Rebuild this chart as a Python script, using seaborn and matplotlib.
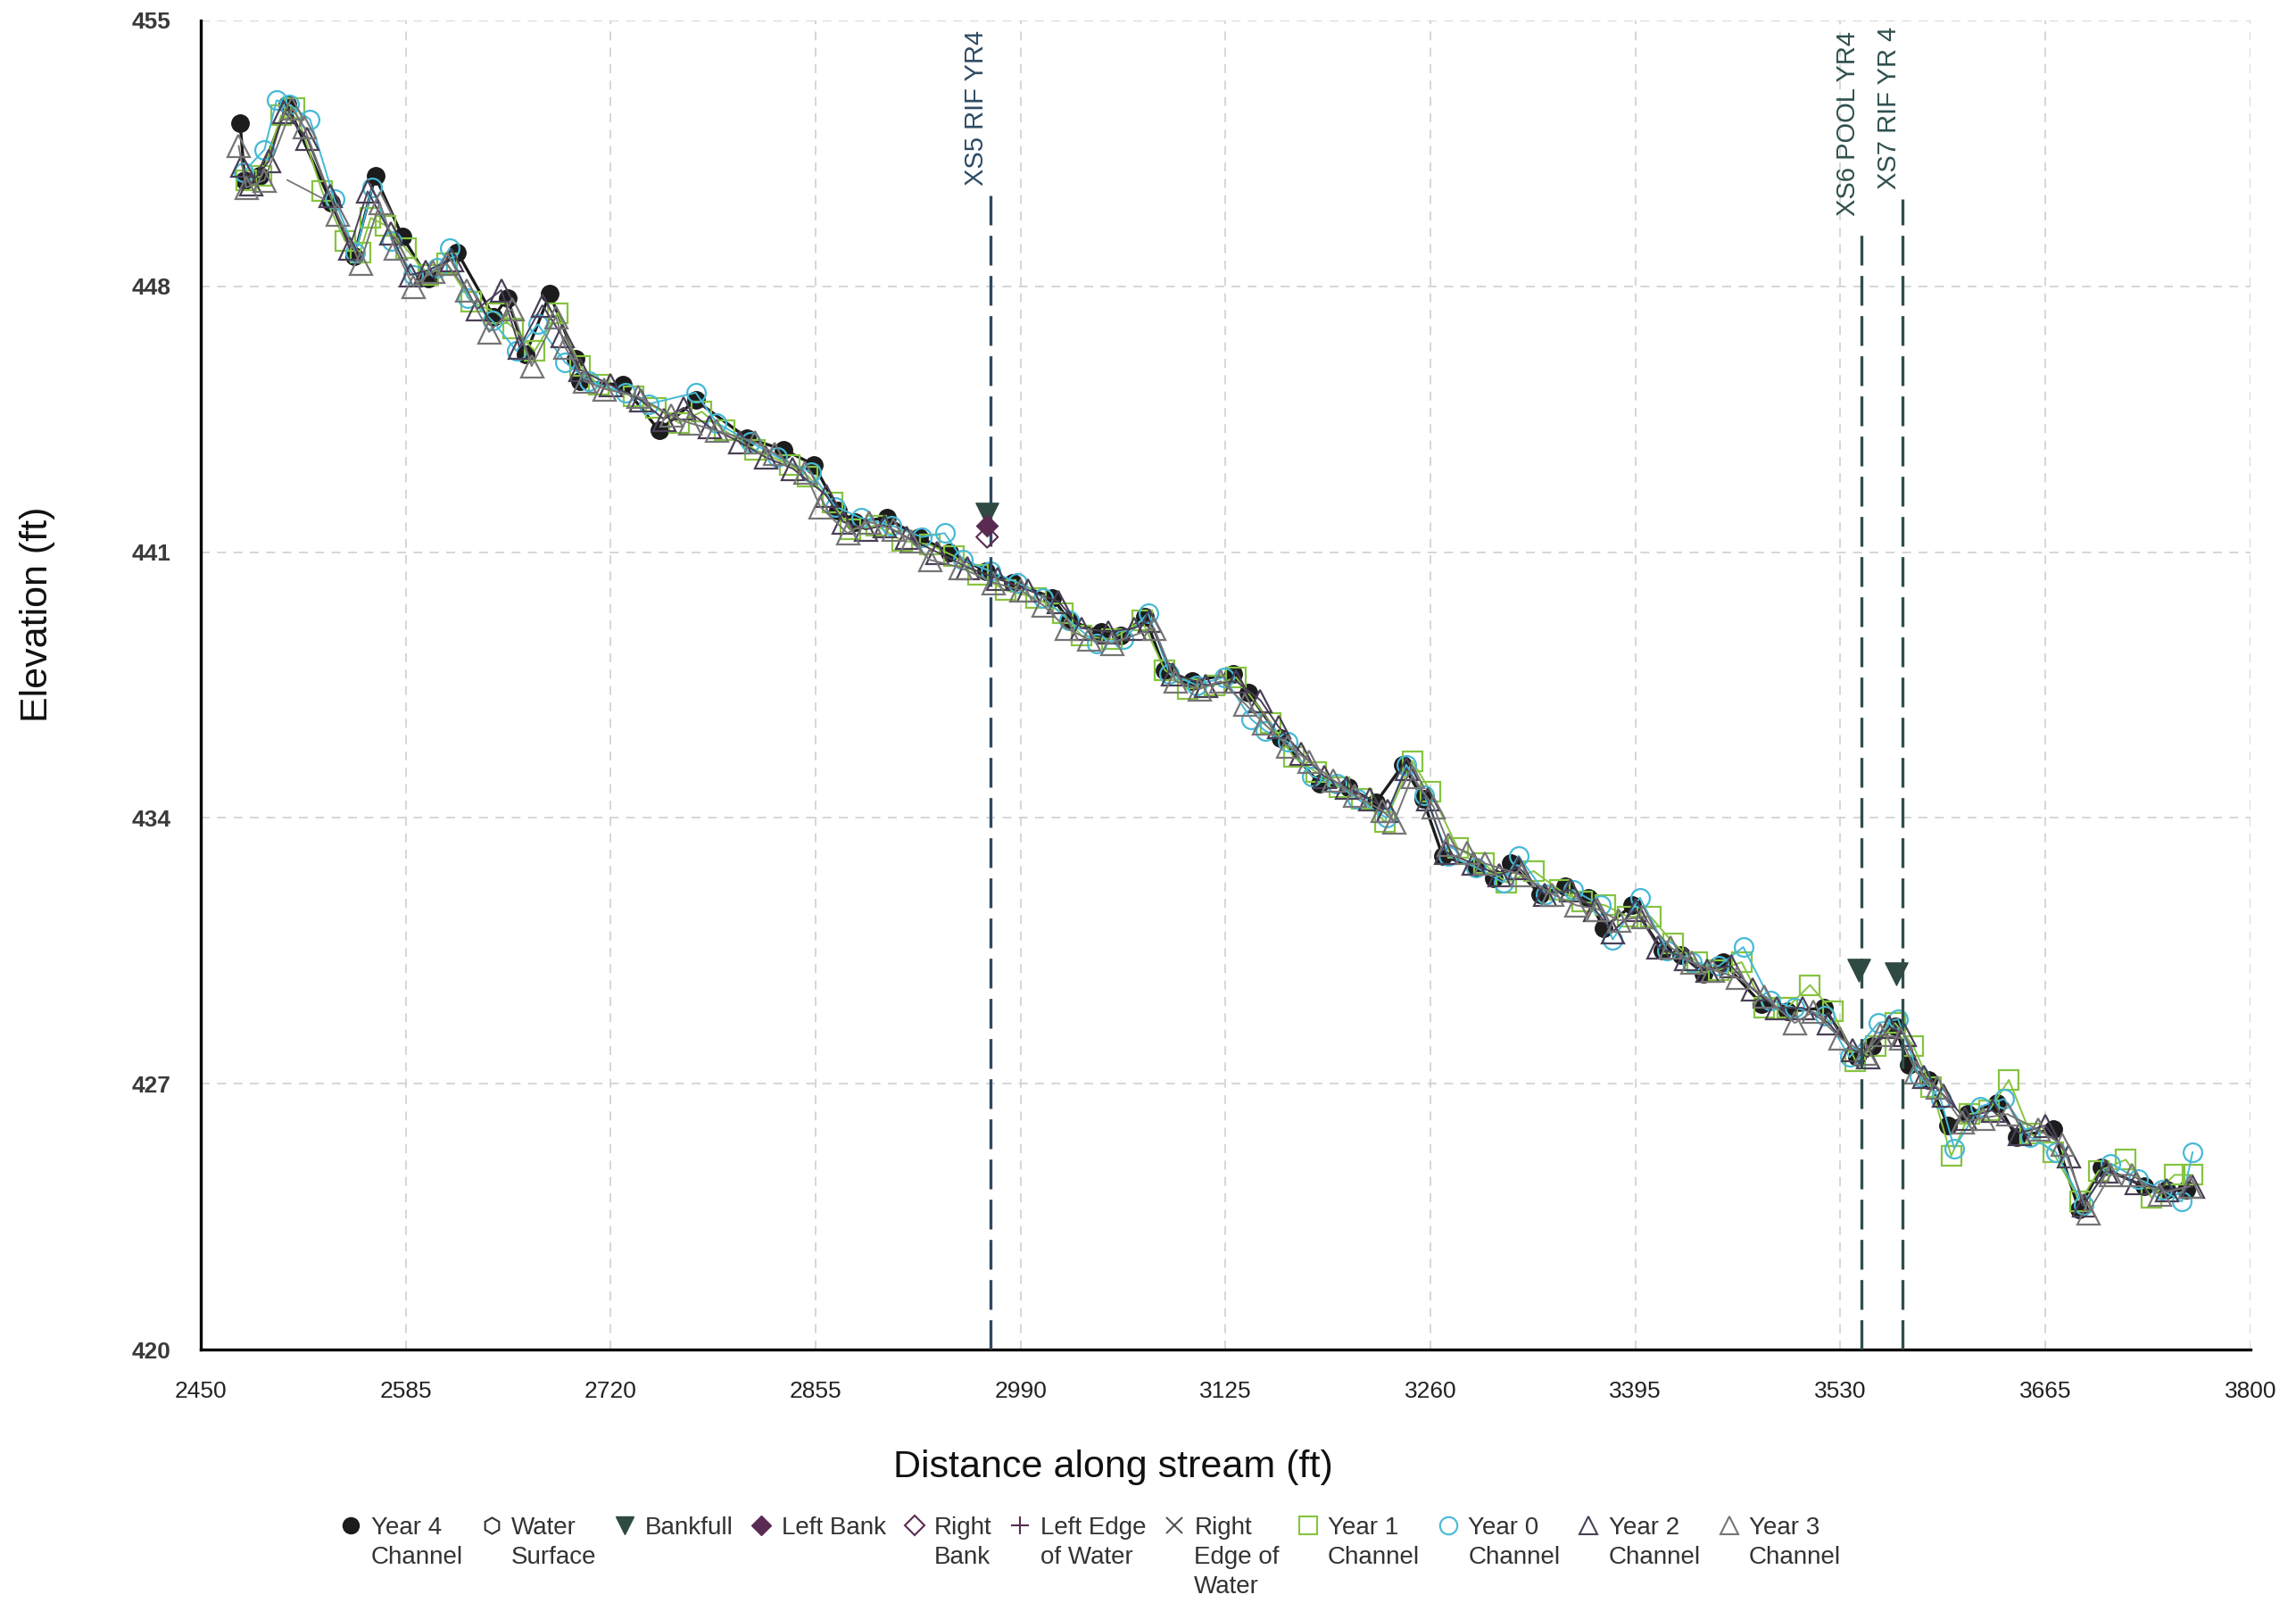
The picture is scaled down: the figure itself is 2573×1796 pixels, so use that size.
import matplotlib
matplotlib.use("Agg")
import matplotlib.pyplot as plt
from matplotlib.lines import Line2D
import seaborn as sns

# ---------------- data ----------------
year4_x = [2476, 2479, 2489, 2507, 2536, 2551, 2565, 2583, 2600, 2619, 2643, 2652, 2664, 2680, 2697, 2700,
           2728, 2752, 2776, 2810, 2834, 2854, 2870, 2881, 2902, 2923, 2943, 2967, 2985, 3011, 3022, 3043,
           3056, 3072, 3085, 3103, 3130, 3140, 3161, 3187, 3206, 3224, 3242, 3255, 3268, 3290, 3302, 3313,
           3332, 3349, 3364, 3374, 3393, 3413, 3425, 3440, 3453, 3478, 3495, 3519, 3541, 3551, 3566, 3575,
           3588, 3601, 3614, 3633, 3646, 3670, 3687, 3702, 3730, 3745, 3758]
year4_y = [452.3, 450.8, 450.9, 452.8, 450.2, 448.8, 450.9, 449.3, 448.2, 448.9, 447.2, 447.7, 446.2, 447.8,
           446.1, 445.5, 445.4, 444.2, 445.0, 444.0, 443.7, 443.3, 442.1, 441.8, 441.9, 441.4, 441.0, 440.5,
           440.2, 439.8, 439.2, 438.9, 438.8, 439.3, 437.9, 437.6, 437.8, 437.3, 436.1, 434.9, 434.8, 434.4,
           435.4, 434.5, 433.0, 432.7, 432.4, 432.8, 432.0, 432.2, 431.9, 431.1, 431.7, 430.5, 430.4, 429.9,
           430.2, 429.1, 428.9, 429.0, 427.7, 428.0, 428.5, 427.5, 427.1, 425.9, 426.2, 426.5, 425.6, 425.8,
           423.7, 424.8, 424.3, 424.2, 424.2]

water_x = [2507, 2531]
water_y = [450.8, 450.3]

year1_x = [2480, 2490, 2503, 2512, 2530, 2545, 2555, 2562, 2572, 2585, 2600, 2612, 2628, 2645, 2656, 2670,
           2685, 2700, 2712, 2735, 2750, 2765, 2780, 2795, 2815, 2838, 2850, 2866, 2878, 2895, 2912, 2930,
           2946, 2962, 2980, 3000, 3018, 3030, 3050, 3070, 3085, 3100, 3118, 3132, 3155, 3170, 3185, 3200,
           3215, 3230, 3248, 3260, 3278, 3295, 3310, 3328, 3345, 3360, 3375, 3390, 3405, 3420, 3436, 3450,
           3465, 3480, 3495, 3510, 3525, 3540, 3553, 3566, 3578, 3590, 3603, 3615, 3628, 3641, 3655, 3670,
           3688, 3700, 3718, 3735, 3750, 3762]
year1_y = [450.8, 450.9, 452.5, 452.7, 450.5, 449.2, 448.9, 449.8, 449.6, 449.0, 448.3, 448.6, 447.6, 447.3,
           446.9, 446.3, 447.3, 445.9, 445.4, 445.1, 444.8, 444.4, 444.7, 444.2, 443.7, 443.3, 443.0, 442.3,
           441.6, 441.7, 441.3, 441.2, 440.9, 440.4, 440.0, 439.8, 439.4, 438.8, 438.7, 439.2, 437.9, 437.4,
           437.5, 437.7, 436.5, 435.6, 435.2, 434.8, 434.5, 433.9, 435.5, 434.7, 433.2, 432.8, 432.3, 432.6,
           432.1, 431.8, 431.7, 431.4, 431.4, 430.7, 430.2, 430.0, 430.2, 429.0, 429.0, 429.6, 428.9, 427.6,
           428.0, 428.6, 428.0, 426.9, 425.1, 426.2, 426.3, 427.1, 425.7, 425.2, 423.9, 424.7, 425.0, 424.0,
           424.6, 424.6]

year0_x = [2478, 2492, 2500, 2508, 2522, 2538, 2552, 2563, 2576, 2590, 2606, 2614, 2626, 2642, 2658, 2672,
           2690, 2706, 2730, 2745, 2776, 2790, 2812, 2830, 2852, 2868, 2885, 2905, 2925, 2940, 2952, 2970,
           2988, 3005, 3022, 3040, 3058, 3074, 3088, 3106, 3124, 3142, 3151, 3166, 3182, 3198, 3212, 3231,
           3244, 3256, 3272, 3290, 3308, 3318, 3336, 3354, 3372, 3380, 3398, 3416, 3432, 3450, 3466, 3484,
           3500, 3520, 3536, 3555, 3568, 3582, 3596, 3605, 3622, 3638, 3655, 3672, 3690, 3708, 3726, 3742,
           3755, 3762]
year0_y = [451.0, 451.6, 452.9, 452.8, 452.4, 450.3, 448.9, 450.6, 449.2, 448.3, 448.5, 449.0, 447.7, 447.1,
           446.3, 447.0, 446.0, 445.5, 445.2, 444.9, 445.2, 444.4, 443.9, 443.5, 443.1, 442.2, 441.9, 441.7,
           441.4, 441.5, 440.8, 440.5, 440.2, 439.8, 439.2, 438.6, 438.7, 439.4, 437.8, 437.5, 437.7, 436.6,
           436.3, 436.0, 435.1, 434.9, 434.5, 434.0, 435.4, 434.6, 433.0, 432.7, 432.3, 433.0, 432.0, 432.1,
           431.7, 430.8, 431.9, 430.5, 430.2, 430.1, 430.6, 429.2, 429.0, 428.8, 427.7, 428.6, 428.7, 427.2,
           426.6, 425.3, 426.4, 426.6, 425.6, 425.2, 423.8, 424.9, 424.5, 424.2, 423.9, 425.2]

year2_x = [2477, 2483, 2495, 2505, 2520, 2535, 2548, 2560, 2575, 2588, 2598, 2615, 2632, 2648, 2660, 2675,
           2688, 2700, 2720, 2740, 2755, 2768, 2785, 2805, 2822, 2840, 2862, 2873, 2888, 2900, 2915, 2935,
           2955, 2975, 2995, 3015, 3030, 3048, 3065, 3075, 3090, 3112, 3132, 3148, 3160, 3175, 3190, 3205,
           3220, 3232, 3244, 3258, 3270, 3288, 3305, 3318, 3335, 3352, 3368, 3380, 3395, 3410, 3428, 3442,
           3458, 3472, 3488, 3505, 3522, 3538, 3548, 3562, 3572, 3585, 3598, 3612, 3630, 3648, 3665, 3680,
           3690, 3705, 3725, 3745, 3762]
year2_y = [451.2, 450.7, 451.3, 452.6, 451.9, 450.4, 449.0, 450.5, 449.4, 448.3, 448.4, 448.7, 447.4, 447.9,
           446.4, 447.5, 446.7, 445.8, 445.4, 445.0, 444.5, 444.8, 444.3, 443.9, 443.5, 443.2, 442.5, 441.8,
           441.6, 441.7, 441.4, 441.0, 440.6, 440.3, 440.0, 439.7, 439.0, 438.9, 439.0, 439.2, 437.8, 437.5,
           437.6, 437.1, 436.4, 435.7, 435.1, 434.8, 434.5, 434.2, 435.3, 434.5, 433.1, 432.8, 432.5, 432.7,
           432.0, 432.1, 431.6, 431.0, 431.6, 430.6, 430.3, 430.0, 430.1, 429.5, 429.0, 429.0, 428.6, 427.9,
           427.7, 428.5, 428.3, 427.2, 426.7, 426.1, 426.3, 425.7, 425.9, 425.1, 423.8, 424.7, 424.4, 424.2,
           424.3]

year3_x = [2475, 2480, 2492, 2510, 2518, 2540, 2555, 2568, 2578, 2590, 2603, 2612, 2625, 2640, 2655, 2668,
           2684, 2690, 2703, 2716, 2738, 2760, 2772, 2790, 2815, 2828, 2848, 2858, 2876, 2890, 2906, 2918,
           2930, 2950, 2972, 2990, 3005, 3020, 3035, 3050, 3078, 3092, 3108, 3122, 3138, 3150, 3166, 3180,
           3196, 3210, 3228, 3236, 3248, 3262, 3272, 3284, 3296, 3320, 3340, 3356, 3370, 3384, 3400, 3418,
           3432, 3446, 3462, 3480, 3500, 3512, 3530, 3546, 3556, 3570, 3580, 3594, 3610, 3624, 3640, 3660,
           3676, 3693, 3708, 3722, 3740, 3760]
year3_y = [451.7, 450.6, 450.8, 452.7, 452.2, 449.9, 448.6, 450.2, 449.0, 448.0, 448.4, 448.6, 447.9, 446.8,
           447.4, 445.9, 447.2, 446.4, 445.5, 445.3, 445.1, 444.6, 444.4, 444.2, 443.9, 443.6, 443.1, 442.2,
           441.5, 441.8, 441.6, 441.3, 440.8, 440.6, 440.2, 440.0, 439.6, 439.0, 438.7, 438.6, 439.0, 437.6,
           437.4, 437.6, 437.0, 436.5, 435.9, 435.5, 435.0, 434.6, 434.2, 433.9, 435.1, 434.3, 433.3, 433.1,
           432.8, 432.5, 432.0, 431.7, 431.6, 431.3, 431.4, 430.6, 430.2, 430.0, 429.8, 429.3, 428.6, 428.9,
           428.2, 427.8, 428.3, 428.2, 427.3, 426.9, 426.0, 426.1, 426.2, 425.8, 425.4, 423.6, 424.6, 424.6,
           424.1, 424.3]

bankfull_x = [2968, 3542, 3567]
bankfull_y = [442.0, 430.0, 429.9]
leftbank_x = [2968]
leftbank_y = [441.7]
rightbank_x = [2968]
rightbank_y = [441.4]

xs_names = ["XS5 RIF YR4", "XS6 POOL YR4", "XS7 RIF YR 4"]
xs_x = [2970, 3544, 3571]
xs_top = [450.4, 449.6, 450.3]
xs_colors = ["#2d4a63", "#2f4f4f", "#2f4f4f"]

x_ticks = [2450, 2585, 2720, 2855, 2990, 3125, 3260, 3395, 3530, 3665, 3800]
y_ticks = [420, 427, 434, 441, 448, 455]

# ---------------- figure ----------------
sns.set_theme(style="white")
plt.rcParams["font.family"] = ["Liberation Sans", "DejaVu Sans"]

fig = plt.figure(figsize=(25.73, 17.96), dpi=100)
ax = fig.add_axes([0.0874, 0.1581, 0.8927, 0.8291])

C4, C1, C0, C2, C3 = "#1c1c1c", "#86c440", "#45b9d6", "#4a3f57", "#757575"

series = [
    (year4_x, year4_y, dict(color=C4, marker="o", markersize=14, markerfacecolor=C4,
                            markeredgecolor=C4, markeredgewidth=1.0, linewidth=2.4)),
    (year1_x, year1_y, dict(color=C1, marker="s", markersize=16, markerfacecolor="none",
                            markeredgecolor=C1, markeredgewidth=1.6, linewidth=1.4)),
    (year0_x, year0_y, dict(color=C0, marker="o", markersize=15, markerfacecolor="none",
                            markeredgecolor=C0, markeredgewidth=1.6, linewidth=1.4)),
    (year2_x, year2_y, dict(color=C2, marker="^", markersize=18, markerfacecolor="none",
                            markeredgecolor=C2, markeredgewidth=1.6, linewidth=1.4)),
    (year3_x, year3_y, dict(color=C3, marker="^", markersize=18, markerfacecolor="none",
                            markeredgecolor=C3, markeredgewidth=1.6, linewidth=1.4)),
]
for xs, ys, kw in series:
    sns.lineplot(x=xs, y=ys, ax=ax, sort=False, estimator=None, legend=False, **kw)

sns.lineplot(x=water_x, y=water_y, ax=ax, sort=False, estimator=None, legend=False,
             color="#777777", linewidth=1.3)

# cross-section lines
for name, xv, top, col in zip(xs_names, xs_x, xs_top, xs_colors):
    ax.vlines(xv, 420, top, colors=col, linewidth=2.4, linestyles=(0, (10, 3.5)), zorder=6)
    ax.text(xv - 9, top + 0.25, name, rotation=90, ha="center", va="bottom",
            fontsize=21, color=col, zorder=7)

sns.scatterplot(x=bankfull_x, y=bankfull_y, ax=ax, marker="v", s=330, color="#2f4a42",
                edgecolor="#2f4a42", linewidth=1, zorder=8, legend=False)
sns.scatterplot(x=leftbank_x, y=leftbank_y, ax=ax, marker="D", s=150, color="#5a2b52",
                edgecolor="#5a2b52", linewidth=1, zorder=8, legend=False)
sns.scatterplot(x=rightbank_x, y=rightbank_y, ax=ax, marker="D", s=150, facecolor="none",
                edgecolor="#5a2b52", linewidth=1.5, zorder=8, legend=False)

# axes styling
ax.set_xlim(2450, 3800)
ax.set_ylim(420, 455)
ax.set_xticks(x_ticks)
ax.set_yticks(y_ticks)
ax.set_xticklabels([str(t) for t in x_ticks], fontsize=19, color="#222222")
ax.set_yticklabels([str(t) for t in y_ticks], fontsize=19, color="#3a3a3a", fontweight="bold")
ax.grid(True, color="#cfcfcf", linestyle=(0, (6, 5)), linewidth=1.2)
ax.set_axisbelow(True)
for s in ["top", "right"]:
    ax.spines[s].set_visible(False)
for s in ["left", "bottom"]:
    ax.spines[s].set_color("black")
    ax.spines[s].set_linewidth(2.4)
ax.tick_params(axis="y", direction="inout", length=46, width=1.6, color="black", pad=1)
ax.tick_params(axis="x", direction="inout", length=43, width=1.6, color="black", pad=4)

ax.set_xlabel("Distance along stream (ft)", fontsize=31, color="#111111")
ax.set_ylabel("Elevation (ft)", fontsize=31, color="#111111")
ax.xaxis.set_label_coords(0.445, -0.075)
ax.yaxis.set_label_coords(-0.071, 0.553)

# legend
handles = [
    Line2D([], [], ls="none", marker="o", ms=13, mfc=C4, mec=C4),
    Line2D([], [], ls="none", marker="h", ms=13, mfc="none", mec="#333333", mew=1.5),
    Line2D([], [], ls="none", marker="v", ms=15, mfc="#2f4a42", mec="#2f4a42"),
    Line2D([], [], ls="none", marker="D", ms=11, mfc="#5a2b52", mec="#5a2b52"),
    Line2D([], [], ls="none", marker="D", ms=11, mfc="none", mec="#5a2b52", mew=1.5),
    Line2D([], [], ls="none", marker="+", ms=15, mec="#5a2b52", mew=1.5),
    Line2D([], [], ls="none", marker="x", ms=13, mec="#555555", mew=1.5),
    Line2D([], [], ls="none", marker="s", ms=14, mfc="none", mec=C1, mew=1.5),
    Line2D([], [], ls="none", marker="o", ms=14, mfc="none", mec=C0, mew=1.5),
    Line2D([], [], ls="none", marker="^", ms=15, mfc="none", mec=C2, mew=1.5),
    Line2D([], [], ls="none", marker="^", ms=15, mfc="none", mec=C3, mew=1.5),
]
labels = ["Year 4\nChannel", "Water\nSurface", "Bankfull", "Left Bank", "Right\nBank",
          "Left Edge\nof Water", "Right\nEdge of\nWater", "Year 1\nChannel", "Year 0\nChannel",
          "Year 2\nChannel", "Year 3\nChannel"]
leg = fig.legend(handles, labels, loc="upper left", bbox_to_anchor=(0.148, 0.054), ncol=11,
                 frameon=False, fontsize=20, handlelength=0.9, handletextpad=0.35,
                 columnspacing=0.7, borderpad=0, borderaxespad=0)
for t in leg.get_texts():
    t.set_color("#333333")
    t.set_linespacing(1.35)
try:
    leg._legend_handle_box.align = "top"
    for col in leg._legend_handle_box.get_children():
        col.align = "left"
        for item in col.get_children():
            item.align = "top"
except Exception:
    pass

fig.savefig("out.png", dpi=100)
